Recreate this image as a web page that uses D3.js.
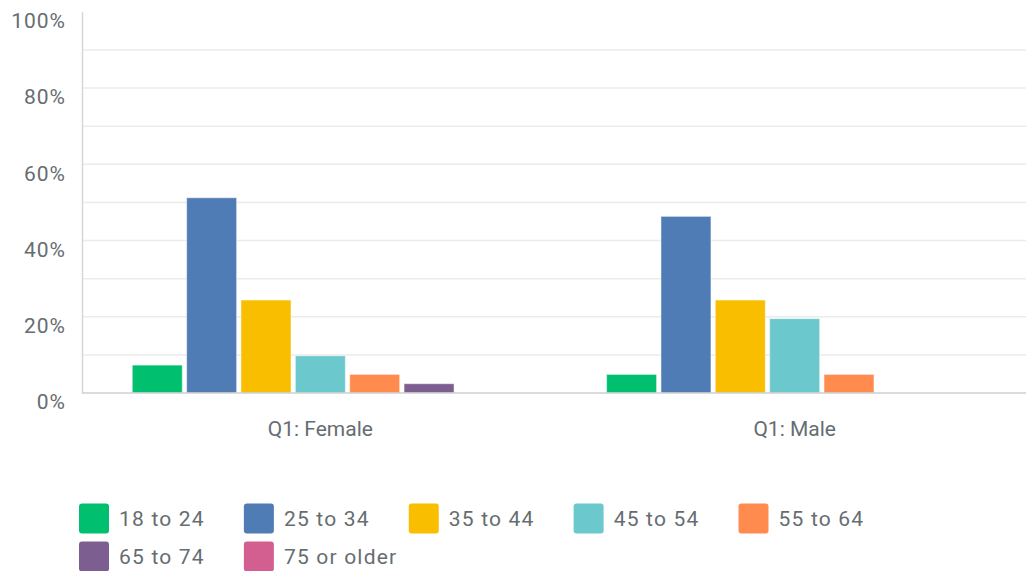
<!DOCTYPE html>
<html>
<head>
<meta charset="utf-8">
<script src="https://cdn.jsdelivr.net/npm/d3@7"></script>
<style>
  body { margin: 0; background: #fff; }
  text { font-family: Roboto, "Noto Sans", sans-serif; fill: #666d71; }
</style>
</head>
<body>
<div id="root"></div>
<script>
const groups = ["Q1: Female", "Q1: Male"]
const ageBands = ["18 to 24", "25 to 34", "35 to 44", "45 to 54", "55 to 64", "65 to 74", "75 or older"]
const femaleValues = [7.32, 51.22, 24.39, 9.76, 4.88, 2.44, 0]
const maleValues = [4.88, 46.34, 24.39, 19.51, 4.88, 0, 0]
const bandColors = ["#00bf6f", "#507cb6", "#f9be00", "#6bc8cd", "#ff8b4f", "#7d5e90", "#d25f90"]
const yTicks = [0, 20, 40, 60, 80, 100]
const gridTicks = [10, 20, 30, 40, 50, 60, 70, 80, 90]

function drawChart() {
  const ROOT_ELEM = d3.select("#root")
  ROOT_ELEM.selectAll("*").remove()

  const width = 1026
  const height = 571
  const margin = { top: 11.8, left: 82, bottom: 178 }
  const baseY = height - margin.bottom

  const rows = groups.map((g, i) => ({
    group: g,
    values: i === 0 ? femaleValues : maleValues,
  }))

  const wrapper = ROOT_ELEM.append("svg")
    .attr("width", width)
    .attr("height", height)

  const yScale = d3.scaleLinear()
    .domain([0, 100])
    .range([baseY, margin.top])

  const x0 = d3.scaleBand()
    .domain(groups)
    .range([margin.left, 1033])
    .paddingInner(0.207)
    .paddingOuter(0.106)

  const x1 = d3.scaleBand()
    .domain(ageBands)
    .range([0, x0.bandwidth()])
    .paddingInner(0.08)

  const colorScale = d3.scaleOrdinal()
    .domain(ageBands)
    .range(bandColors)

  // gridlines
  wrapper.append("g")
    .selectAll("line")
    .data(gridTicks)
    .join("line")
    .attr("x1", margin.left)
    .attr("x2", width)
    .attr("y1", d => yScale(d))
    .attr("y2", d => yScale(d))
    .attr("stroke", "#ebebeb")
    .attr("stroke-width", 1.5)

  // y axis
  const yAxisGenerator = d3.axisLeft(yScale)
    .tickValues(yTicks)
    .tickSize(0)
    .tickPadding(16)
    .tickFormat(d => d + "%")

  const yAxis = wrapper.append("g")
    .attr("transform", `translate(${margin.left},0)`)
    .call(yAxisGenerator)
  yAxis.select(".domain").attr("stroke", "#d6d6d6").attr("stroke-width", 1.5)
  yAxis.selectAll("text")
    .attr("dy", "0.75em")
    .style("font-size", "21px")
    .style("letter-spacing", "1px")
    .style("fill", "#666d71")

  // bars
  wrapper.append("g")
    .selectAll("g")
    .data(rows)
    .join("g")
    .attr("transform", d => `translate(${x0(d.group)},0)`)
    .selectAll("rect")
    .data(d => d.values.map((v, i) => ({ band: ageBands[i], value: v })).filter(d => d.value > 0))
    .join("rect")
    .attr("x", d => x1(d.band))
    .attr("y", d => yScale(d.value))
    .attr("width", x1.bandwidth())
    .attr("height", d => baseY - yScale(d.value))
    .attr("fill", d => colorScale(d.band))
    .attr("stroke", "rgba(255,255,255,0.5)")
    .attr("stroke-width", 1)

  // x axis
  const xAxisGenerator = d3.axisBottom(x0)
    .tickSize(0)
    .tickPadding(28)

  const xAxis = wrapper.append("g")
    .attr("transform", `translate(0,${baseY})`)
    .call(xAxisGenerator)
  xAxis.select(".domain").remove()
  xAxis.selectAll("text")
    .style("font-size", "21px")
    .style("fill", "#666d71")
  xAxis.append("line")
    .attr("x1", margin.left)
    .attr("x2", width)
    .attr("stroke", "#cfcfcf")
    .attr("stroke-width", 1.5)

  // legend
  const legend = wrapper.append("g")
  let lx = 79
  let ly = 503.5
  ageBands.forEach(band => {
    const item = legend.append("g")
    item.append("rect")
      .attr("width", 30)
      .attr("height", 30)
      .attr("rx", 3)
      .attr("fill", colorScale(band))
    const label = item.append("text")
      .attr("x", 40)
      .attr("y", 15)
      .attr("dy", "0.36em")
      .style("font-size", "21px")
      .style("letter-spacing", "1.2px")
      .text(band)
    const w = 40 + label.node().getComputedTextLength() + 39
    if (lx + w > 1000) {
      lx = 79
      ly += 38
    }
    item.attr("transform", `translate(${lx},${ly})`)
    lx += w
  })
}

drawChart()
</script>
</body>
</html>
